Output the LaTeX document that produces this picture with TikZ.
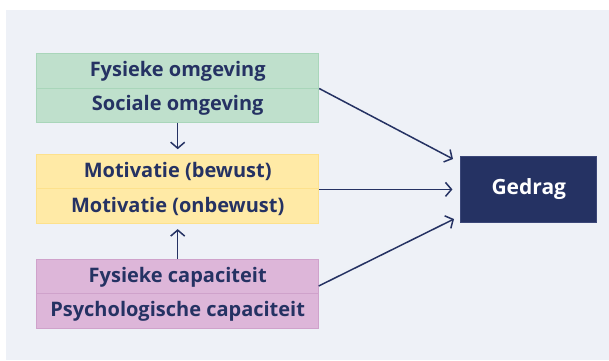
\documentclass[tikz,border=0pt]{standalone}
\usepackage{fontspec}
\setmainfont{Open Sans}
\usetikzlibrary{arrows.meta}
\definecolor{navy}{HTML}{253263}
\definecolor{navyrand}{HTML}{3B4778}
\definecolor{achtergrond}{HTML}{EEF1F7}
\definecolor{groen}{HTML}{BFE0CC}
\definecolor{groenrand}{HTML}{A9D6BA}
\definecolor{geel}{HTML}{FFEAA6}
\definecolor{geelrand}{HTML}{FDE18C}
\definecolor{paars}{HTML}{DDB6D9}
\definecolor{paarsrand}{HTML}{CFA2CB}

\begin{document}
\begin{tikzpicture}[x=1pt,y=-1pt]
        \tikzstyle{every node}+=[inner sep=0pt]
        \tikzstyle{vak}=[minimum width=282pt, minimum height=34.2pt, line width=1pt, text=navy, font=\fontsize{20}{22}\selectfont\bfseries]
        \tikzstyle{pijl}=[navy, line width=1.5pt, -{Straight Barb[length=6pt,width=14pt]}]
        \useasboundingbox (0,0) rectangle (609,360);
        \fill [achtergrond] (6,10) rectangle (609,360);
        \node [vak, fill=groen, draw=groenrand] (fysiek) at (177.7,70.9) {Fysieke omgeving};
        \node [vak, fill=groen, draw=groenrand] (sociaal) at (177.7,105.1) {Sociale omgeving};
        \node [vak, fill=geel, draw=geelrand] (bewust) at (177.7,171.8) {Motivatie (bewust)};
        \node [vak, fill=geel, draw=geelrand] (onbewust) at (177.7,206) {Motivatie (onbewust)};
        \node [vak, fill=paars, draw=paarsrand] (fyscap) at (177.7,276.8) {Fysieke capaciteit};
        \node [vak, fill=paars, draw=paarsrand] (psycap) at (177.7,311) {Psychologische capaciteit};
        \node [fill=navy, draw=navyrand, line width=1pt, minimum width=135.7pt, minimum height=66pt, text=white, font=\fontsize{21}{23}\selectfont\bfseries] (gedrag) at (528.8,189.5) {Gedrag};
        \coordinate (uitFys) at (318.7,286);
        \coordinate (inBoven) at (453,159);
        \coordinate (inOnder) at (454,219);
        \draw [pijl, shorten >=5pt] (sociaal.south) -- (bewust.north);
        \draw [pijl, shorten >=5.5pt] (fyscap.north) -- (onbewust.south);
        \draw [pijl] (fysiek.south east) -- (inBoven);
        \draw [pijl, shorten >=8pt] (bewust.south east) -- (gedrag.west |- bewust.south east);
        \draw [pijl] (uitFys) -- (inOnder);
\end{tikzpicture}
\end{document}
